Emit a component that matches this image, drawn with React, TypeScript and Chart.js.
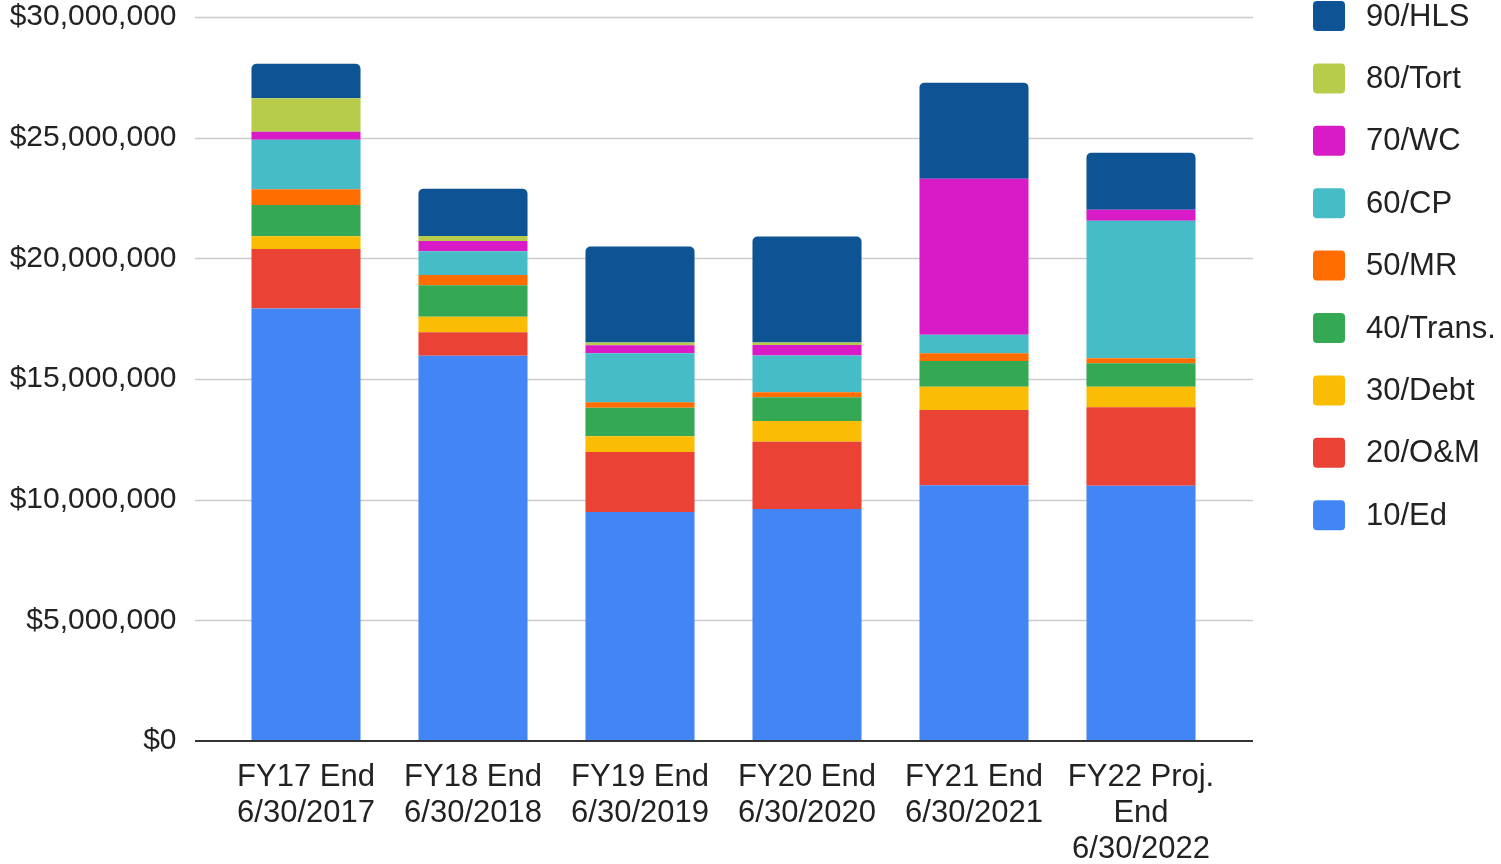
import React, { useEffect, useRef } from "react";
import { Chart, registerables } from "chart.js";

Chart.register(...registerables);

const categories: (string | string[])[] = [
  ["FY17 End", "6/30/2017"],
  ["FY18 End", "6/30/2018"],
  ["FY19 End", "6/30/2019"],
  ["FY20 End", "6/30/2020"],
  ["FY21 End", "6/30/2021"],
  ["FY22 Proj.", "End", "6/30/2022"],
];

const seriesNames = ["10/Ed", "20/O&M", "30/Debt", "40/Trans.", "50/MR", "60/CP", "70/WC", "80/Tort", "90/HLS"];

const ed = [17920000, 15960000, 9490000, 9610000, 10600000, 10580000];
const om = [2470000, 980000, 2490000, 2790000, 3120000, 3250000];
const debt = [530000, 640000, 650000, 860000, 960000, 850000];
const trans = [1290000, 1300000, 1180000, 980000, 1070000, 970000];
const mr = [650000, 430000, 230000, 210000, 320000, 210000];
const cp = [2050000, 980000, 2030000, 1520000, 760000, 5700000];
const wc = [340000, 430000, 330000, 440000, 6470000, 450000];
const tort = [1380000, 210000, 110000, 100000, 0, 0];
const hls = [1430000, 1950000, 3980000, 4390000, 3980000, 2370000];

const seriesValues = [ed, om, debt, trans, mr, cp, wc, tort, hls];
const seriesColors = ["#4285F4", "#EA4335", "#FBBC04", "#34A853", "#FF6D01", "#46BDC6", "#D81BC6", "#B7CC4A", "#0E5394"];

const yTickMin = 0;
const yTickMax = 30000000;
const yTickStep = 5000000;

const FONT = '"Liberation Sans", Arial, sans-serif';

const gridPlugin = {
  id: "extendedGrid",
  beforeDatasetsDraw(chart: any) {
    const { ctx, chartArea } = chart;
    const y = chart.scales.y;
    ctx.save();
    ctx.strokeStyle = "#cccccc";
    ctx.lineWidth = 1.5;
    y.ticks.forEach((t: any) => {
      if (t.value === 0) return;
      const py = Math.round(y.getPixelForValue(t.value)) + 0.5;
      ctx.beginPath();
      ctx.moveTo(chartArea.left - 27.5, py);
      ctx.lineTo(chartArea.right + 28.5, py);
      ctx.stroke();
    });
    ctx.restore();
  },
  afterDatasetsDraw(chart: any) {
    const { ctx, chartArea } = chart;
    const y = chart.scales.y;
    const py = y.getPixelForValue(0);
    ctx.save();
    ctx.strokeStyle = "#333333";
    ctx.lineWidth = 2;
    ctx.beginPath();
    ctx.moveTo(chartArea.left - 27.5, py);
    ctx.lineTo(chartArea.right + 28.5, py);
    ctx.stroke();
    ctx.restore();
  },
};

const legendPlugin = {
  id: "sideLegend",
  afterDraw(chart: any) {
    const { ctx } = chart;
    const ds = chart.data.datasets;
    ctx.save();
    ctx.font = `31px ${FONT}`;
    ctx.textBaseline = "middle";
    ctx.textAlign = "left";
    for (let k = 0; k < ds.length; k++) {
      const d = ds[ds.length - 1 - k];
      const top = 1 + k * 62.4;
      const left = chart.width - 188;
      ctx.fillStyle = d.backgroundColor;
      ctx.beginPath();
      (ctx as any).roundRect(left, top, 32, 30, 4);
      ctx.fill();
      ctx.fillStyle = "#222222";
      ctx.fillText(d.label, left + 53, top + 16);
    }
    ctx.restore();
  },
};

export default function App() {
  const ref = useRef<HTMLCanvasElement | null>(null);

  useEffect(() => {
    if (!ref.current) return;
    const datasets = seriesNames.map((name, i) => ({
      label: name,
      data: seriesValues[i],
      backgroundColor: seriesColors[i],
      borderWidth: 0,
      borderRadius: i === seriesNames.length - 1 ? { topLeft: 5, topRight: 5, bottomLeft: 0, bottomRight: 0 } : 0,
      borderSkipped: false as any,
      categoryPercentage: 1,
      barPercentage: 0.653,
    }));
    const chart = new Chart(ref.current, {
      type: "bar",
      data: { labels: categories, datasets },
      options: {
        animation: false,
        responsive: false,
        events: [],
        layout: { padding: { top: 17, right: 276.5, bottom: 0, left: 0 } },
        plugins: {
          legend: { display: false },
          tooltip: { enabled: false },
        },
        scales: {
          x: {
            stacked: true,
            grid: { display: false, drawTicks: false },
            border: { display: false },
            ticks: {
              padding: 18,
              color: "#222222",
              font: { family: FONT, size: 31, lineHeight: 1.17 },
              maxRotation: 0,
              autoSkip: false,
            },
            afterFit: (scale: any) => {
              scale.height = 123;
            },
          },
          y: {
            stacked: true,
            min: yTickMin,
            max: yTickMax,
            grid: { display: false, drawTicks: false },
            border: { display: false },
            ticks: {
              stepSize: yTickStep,
              padding: 46,
              color: "#222222",
              font: { family: FONT, size: 30 },
              callback: (v: any) => "$" + Number(v).toLocaleString("en-US"),
            },
            afterFit: (scale: any) => {
              scale.width = 222.5;
              scale.paddingTop = 0;
              scale.paddingBottom = 0;
            },
          },
        },
      },
      plugins: [gridPlugin, legendPlugin],
    });
    return () => chart.destroy();
  }, []);

  return (
    <div style={{ position: "fixed", left: 0, top: 0, width: 1501, height: 864, background: "#ffffff" }}>
      <canvas ref={ref} width={1501} height={864} style={{ display: "block" }} />
    </div>
  );
}
